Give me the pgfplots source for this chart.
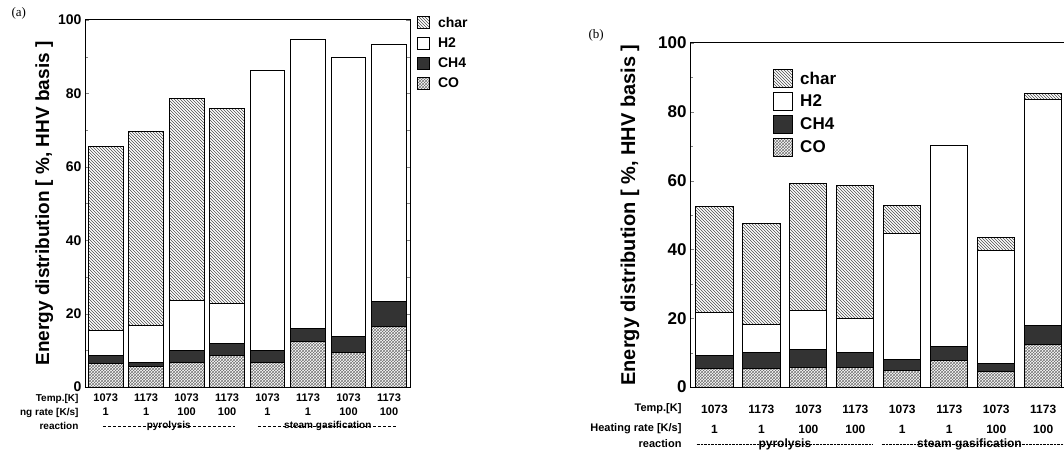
\documentclass[border=0pt]{standalone}
\usepackage{fontspec}
\setmainfont{Liberation Sans}
\newfontfamily\serifpanel{Liberation Serif}
\usepackage{pgfplots}
\usepackage{pgfplotstable}
\pgfplotsset{compat=1.18}
\usetikzlibrary{patterns}

% energy distribution, stacked: CO, CH4, H2, char
\pgfplotstableread{
x CO CH4 H2 char
0 6.4 2.2 6.9 50.0
1 5.5 1.3 10.0 52.7
2 6.8 3.2 13.6 55.0
3 8.6 3.2 10.9 53.3
4 6.8 3.2 76.2 0
5 12.3 3.6 78.9 0
6 9.5 4.3 76.0 0
7 16.4 6.8 70.2 0
}\dataA

\pgfplotstableread{
x CO CH4 H2 char
0 5.3 3.9 12.6 30.6
1 5.3 4.6 8.4 29.3
2 5.8 5.1 11.4 36.9
3 5.8 4.1 10.0 38.8
4 4.9 3.1 36.7 8.2
5 7.8 3.9 58.4 0
6 4.4 2.4 32.8 3.8
7 12.5 5.5 65.5 1.7
}\dataB

\pgfplotsset{
  panel/.style={
    scale only axis, anchor=south west, clip=false,
    ybar stacked, ymin=0, ymax=100,
    ytick={0,20,...,100}, minor y tick num=1,
    ytick pos=both, tick align=inside,
    xtick={0,...,7}, major x tick style={draw=none},
    xticklabels={{1073\\1},{1173\\1},{1073\\100},{1173\\100},{1073\\1},{1173\\1},{1073\\100},{1173\\100}},
    /pgf/number format/assume math mode=true,
    axis line style={line width=1pt},
    legend cell align=left, reverse legend,
    legend style={draw=none, fill=none},
    ylabel={Energy distribution [ \%, HHV basis ]},
  },
  sCO/.style={draw=black, line width=0.9pt, pattern=crosshatch, pattern color=black!55},
  sCH/.style={draw=black, line width=0.9pt, fill=black!80},
  sH/.style={draw=black, line width=0.9pt, fill=white},
  sC/.style={draw=black, line width=0.9pt, pattern=north west lines, pattern color=black!70},
  legA/.style={legend image code/.code={\draw[##1] (0pt,-6pt) rectangle (12pt,6pt);}},
  legB/.style={legend image code/.code={\draw[##1] (0pt,-9pt) rectangle (19pt,9pt);}},
}

\begin{document}
\begin{tikzpicture}
\useasboundingbox (0,0) rectangle (1064pt,453pt);
\clip (0,0) rectangle (1064pt,453pt);

\node[anchor=north west, font=\serifpanel\fontsize{13}{13}\selectfont] at (8pt,449pt) {(a)};
\node[anchor=north west, font=\serifpanel\fontsize{13}{13}\selectfont] at (585pt,427pt) {(b)};

\begin{axis}[panel,
  at={(85pt,66pt)}, width=325pt, height=367pt,
  xmin=-0.51, xmax=7.52, bar width=0.86,
  yticklabel style={font=\bfseries\fontsize{14}{14}\selectfont},
  xticklabel style={font=\bfseries\fontsize{11}{14}\selectfont, align=center, yshift=-3pt},
  ylabel style={font=\bfseries\fontsize{19}{19}\selectfont, yshift=-2pt},
  legend style={at={(1.0,1.02)}, anchor=north west, xshift=4pt,
    font=\bfseries\fontsize{14}{14}\selectfont, row sep=5pt, column sep=6pt},
]
\addplot[sCO, legA] table[x=x, y=CO] {\dataA};
\addplot[sCH, legA] table[x=x, y=CH4] {\dataA};
\addplot[sH, legA] table[x=x, y=H2] {\dataA};
\addplot[sC, legA] table[x=x, y=char] {\dataA};
\legend{CO, CH4, H2, char}
\node[anchor=east, font=\bfseries\fontsize{10}{10}\selectfont] at ([xshift=-3pt,yshift=-12pt]rel axis cs:0,0) {Temp.[K]};
\node[anchor=east, font=\bfseries\fontsize{10}{10}\selectfont] at ([xshift=-3pt,yshift=-26pt]rel axis cs:0,0) {ng rate [K/s]};
\node[anchor=east, font=\bfseries\fontsize{10}{10}\selectfont] at ([xshift=-3pt,yshift=-39pt]rel axis cs:0,0) {reaction};
\draw[densely dashed] ([yshift=-39pt]axis cs:-0.07,0) -- ([yshift=-39pt]axis cs:3.19,0);
\draw[densely dashed] ([yshift=-39pt]axis cs:3.76,0) -- ([yshift=-39pt]axis cs:7.21,0);
\node[fill=white, inner sep=1pt, font=\bfseries\fontsize{10}{10}\selectfont] at ([yshift=-39pt]axis cs:1.56,0) {pyrolysis};
\node[fill=white, inner sep=1pt, font=\bfseries\fontsize{10}{10}\selectfont] at ([yshift=-39pt]axis cs:5.49,0) {steam gasification};
\end{axis}

\begin{axis}[panel,
  at={(690pt,66pt)}, width=380pt, height=344pt,
  xmin=-0.52, xmax=7.57, bar width=0.79,
  yticklabel style={font=\bfseries\fontsize{17}{17}\selectfont},
  xticklabel style={font=\bfseries\fontsize{12}{20}\selectfont, align=center, yshift=-15pt},
  ylabel style={font=\bfseries\fontsize{20}{20}\selectfont, yshift=12pt},
  legend style={at={(0.224,0.93)}, anchor=north west, xshift=-5pt,
    font=\bfseries\fontsize{17}{17}\selectfont, row sep=4pt, column sep=5pt},
]
\addplot[sCO, legB] table[x=x, y=CO] {\dataB};
\addplot[sCH, legB] table[x=x, y=CH4] {\dataB};
\addplot[sH, legB] table[x=x, y=H2] {\dataB};
\addplot[sC, legB] table[x=x, y=char] {\dataB};
\legend{CO, CH4, H2, char}
\node[anchor=east, font=\bfseries\fontsize{11}{11}\selectfont] at ([xshift=-5pt,yshift=-22pt]rel axis cs:0,0) {Temp.[K]};
\node[anchor=east, font=\bfseries\fontsize{11}{11}\selectfont] at ([xshift=-5pt,yshift=-42pt]rel axis cs:0,0) {Heating rate [K/s]};
\node[anchor=east, font=\bfseries\fontsize{11}{11}\selectfont] at ([xshift=-5pt,yshift=-57pt]rel axis cs:0,0) {reaction};
\draw[densely dotted] ([yshift=-57pt]axis cs:-0.38,0) -- ([yshift=-57pt]axis cs:3.36,0);
\draw[densely dotted] ([yshift=-57pt]axis cs:3.56,0) -- ([yshift=-57pt]axis cs:7.5,0);
\node[fill=white, inner sep=1pt, font=\bfseries\fontsize{12}{12}\selectfont] at ([yshift=-57pt]axis cs:1.5,0) {pyrolysis};
\node[fill=white, inner sep=1pt, font=\bfseries\fontsize{12}{12}\selectfont] at ([yshift=-57pt]axis cs:5.43,0) {steam gasification};
\end{axis}
\end{tikzpicture}
\end{document}
